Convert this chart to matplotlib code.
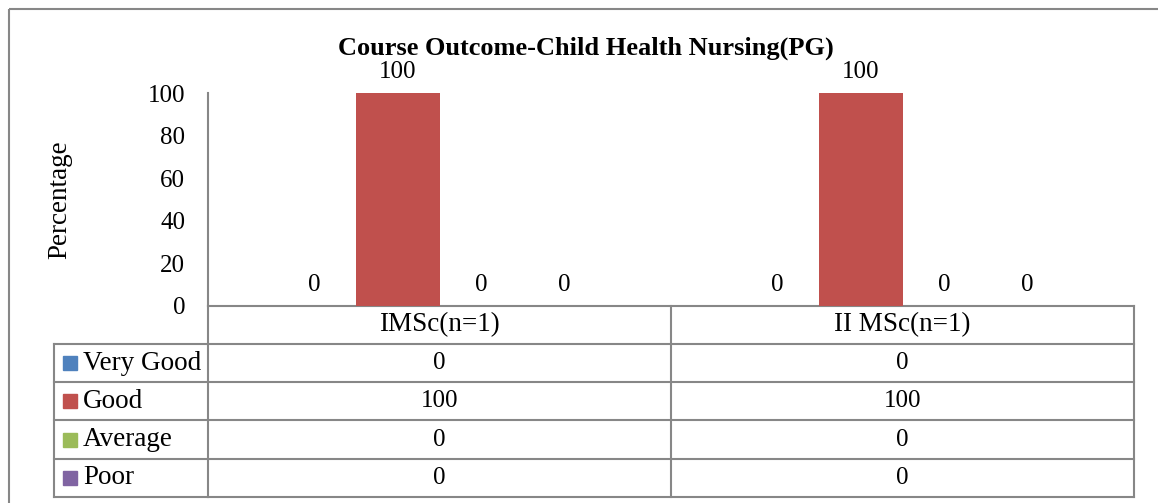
import matplotlib
matplotlib.use("Agg")
import matplotlib.pyplot as plt
import matplotlib.transforms as mtransforms
import numpy as np

categories = ["IMSc(n=1)", "II MSc(n=1)"]
series_names = ["Very Good", "Good", "Average", "Poor"]
very_good = [0, 0]
good = [100, 100]
average = [0, 0]
poor = [0, 0]
series_values = [very_good, good, average, poor]
colors = ["#4F81BD", "#C0504D", "#9BBB59", "#8064A2"]
yticks = [0, 20, 40, 60, 80, 100]

plt.rcParams["font.family"] = ["Liberation Serif", "DejaVu Serif"]
FS = 18        # numbers
FS_TXT = 19.5  # words
GRID = "#878787"

W, H = 1158, 503
fig = plt.figure(figsize=(W / 100, H / 100), dpi=100)

# overlay axes in pixel coordinates for border, title and table grid
ov = fig.add_axes([0, 0, 1, 1], zorder=0)
ov.set_xlim(0, W)
ov.set_ylim(H, 0)
ov.axis("off")

# plot area
ax = fig.add_axes([208 / W, 1 - 306 / H, 926 / W, 213 / H], zorder=1)
ax.patch.set_alpha(0)
x = np.arange(len(categories))
width = 0.18
for i, (name, vals) in enumerate(zip(series_names, series_values)):
    pos = x + (i - 1.5) * width
    ax.bar(pos, vals, width, color=colors[i], label=name)
    for px, v in zip(pos, vals):
        ax.annotate(f"{v}", (px, v), xytext=(0, 11), textcoords="offset points",
                    ha="center", va="baseline", fontsize=FS)

ax.set_xlim(-0.5, len(categories) - 0.5)
ax.set_ylim(0, 100)
ax.set_yticks(yticks)
ax.set_xticks([])
ax.tick_params(axis="y", length=0, pad=16.5, labelsize=FS)
for s in ["top", "right"]:
    ax.spines[s].set_visible(False)
ax.spines["left"].set_color(GRID)
ax.spines["left"].set_linewidth(1.5)
ax.spines["bottom"].set_visible(False)

# outer chart border
ov.add_patch(plt.Rectangle((9, 9), 1155, 520, fill=False, ec=GRID, lw=1.5))

ov.text(586, 48, "Course Outcome-Child Health Nursing(PG)", ha="center", va="center",
        fontsize=19, fontweight="bold")
ov.text(60, 200, "Percentage", rotation=90, ha="center", va="center", fontsize=FS_TXT)

# data table
tr = mtransforms.blended_transform_factory(ax.transData, ov.transData)
row_edges = [306, 344, 382, 420, 459, 497]
xl, xr = -0.5, len(categories) - 0.5
ov.plot([xl, xr], [row_edges[0]] * 2, color=GRID, lw=1.5, transform=tr)
for e in row_edges[1:]:
    ov.plot([xl, xr], [e, e], color=GRID, lw=1.5, transform=tr)
    ov.plot([54, 208], [e, e], color=GRID, lw=1.5)
for xv in np.arange(xl, xr + 0.01, 1.0):
    ov.plot([xv, xv], [row_edges[0], row_edges[-1]], color=GRID, lw=1.5, transform=tr)
ov.plot([54, 54], [row_edges[1], row_edges[-1]], color=GRID, lw=1.5)

for j, cat in enumerate(categories):
    ov.text(j, (row_edges[0] + row_edges[1]) / 2, cat, ha="center", va="center",
            fontsize=FS_TXT, transform=tr)
for i, (name, vals) in enumerate(zip(series_names, series_values)):
    yc = (row_edges[i + 1] + row_edges[i + 2]) / 2
    ov.add_patch(plt.Rectangle((63, yc - 7), 14, 14, color=colors[i]))
    ov.text(83, yc, name, ha="left", va="center", fontsize=FS_TXT)
    for j, v in enumerate(vals):
        ov.text(j, yc, f"{v}", ha="center", va="center", fontsize=FS, transform=tr)

fig.savefig("out.png", dpi=100)
plt.close(fig)
